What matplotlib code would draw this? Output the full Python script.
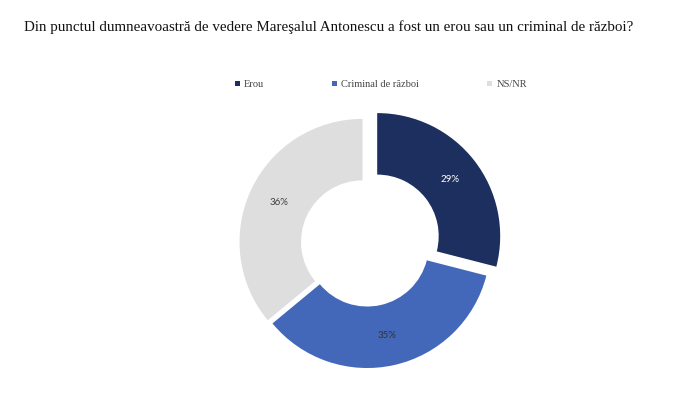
import matplotlib.pyplot as plt

categories = ['Erou', 'Criminal de război', 'NS/NR']
values = [29, 35, 36]
colors = ['#1c2f5e', '#4468b9', '#dedede']
label_colors = ['white', '#333333', '#404040']

fig = plt.figure(figsize=(7, 3.94), dpi=100)

fig.text(0.034, 0.93, 'Din punctul dumneavoastră de vedere Mareşalul Antonescu a fost un erou sau un criminal de război?',
         fontsize=10.8, family='Liberation Serif', color='#111111', va='center', ha='left')

# donut centred around (367, 244) px, 150 px per data unit
ax = fig.add_axes([217 / 700, 0, 300 / 700, 300 / 394])
wedges, texts, autotexts = ax.pie(values, colors=colors, startangle=90, counterclock=False,
                                  radius=0.82, explode=[0.086, 0.007, 0.033],
                                  wedgeprops=dict(width=0.41, edgecolor='none'),
                                  autopct='%d%%', pctdistance=0.75,
                                  textprops=dict(fontsize=7, family='Lato'))
for t, c in zip(autotexts, label_colors):
    t.set_color(c)
ax.set_xlim(-1, 1)
ax.set_ylim(-1, 1)
ax.set_aspect('equal')
ax.axis('off')

leg = fig.legend(wedges, categories, loc='center', bbox_to_anchor=(0.544, 0.785), ncol=3,
                 frameon=False, handlelength=0.5, handleheight=0.5, columnspacing=6.5,
                 handletextpad=0.4, prop=dict(family='Liberation Serif', size=7.5))
for txt in leg.get_texts():
    txt.set_color('#444444')

fig.savefig('out.png', dpi=100)
